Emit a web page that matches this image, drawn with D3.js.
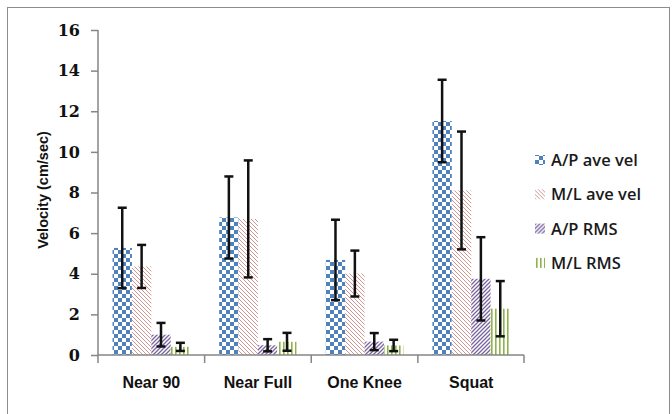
<!DOCTYPE html>
<html>
<head>
<meta charset="utf-8">
<script src="https://cdn.jsdelivr.net/npm/d3@7"></script>
<style>
  body { margin: 0; background: #fff; }
  svg { display: block; }
</style>
</head>
<body>
<div id="chart"></div>
<script>
// data
const categories = ["Near 90", "Near Full", "One Knee", "Squat"];
const seriesNames = ["A/P ave vel", "M/L ave vel", "A/P RMS", "M/L RMS"];
const apAveVel = [5.27, 6.77, 4.68, 11.52];
const mlAveVel = [4.36, 6.70, 4.01, 8.10];
const apRms    = [1.00, 0.48, 0.66, 3.75];
const mlRms    = [0.40, 0.65, 0.47, 2.28];
const apAveVelErr = [1.98, 2.02, 1.98, 2.03];
const mlAveVelErr = [1.06, 2.88, 1.13, 2.90];
const apRmsErr    = [0.58, 0.30, 0.42, 2.05];
const mlRmsErr    = [0.20, 0.44, 0.28, 1.36];
const yTicks = [0, 2, 4, 6, 8, 10, 12, 14, 16];

const values = [apAveVel, mlAveVel, apRms, mlRms];
const errors = [apAveVelErr, mlAveVelErr, apRmsErr, mlRmsErr];
const patternIds = ["pat-check", "pat-down", "pat-up", "pat-vert"];

const width = 672, height = 414;
const margin = { top: 30, right: 148, bottom: 59, left: 98 };
const innerW = width - margin.left - margin.right,
  innerH = height - margin.top - margin.bottom;

const svg = d3.select("#chart")
  .append("svg")
  .attr("width", width)
  .attr("height", height);

// patterns
const defs = svg.append("defs");
const check = defs.append("pattern")
  .attr("id", "pat-check").attr("patternUnits", "userSpaceOnUse")
  .attr("width", 8).attr("height", 8);
check.append("rect").attr("width", 8).attr("height", 8).attr("fill", "#fff");
check.append("rect").attr("width", 4).attr("height", 4).attr("fill", "#4f81bd");
check.append("rect").attr("x", 4).attr("y", 4).attr("width", 4).attr("height", 4).attr("fill", "#4f81bd");

const down = defs.append("pattern")
  .attr("id", "pat-down").attr("patternUnits", "userSpaceOnUse")
  .attr("width", 4).attr("height", 4);
down.append("rect").attr("width", 4).attr("height", 4).attr("fill", "#fff");
down.append("path").attr("d", "M-1,-1L5,5M3,-1L5,1M-1,3L1,5")
  .attr("stroke", "#c47b78").attr("stroke-width", 0.8);

const up = defs.append("pattern")
  .attr("id", "pat-up").attr("patternUnits", "userSpaceOnUse")
  .attr("width", 4).attr("height", 4);
up.append("rect").attr("width", 4).attr("height", 4).attr("fill", "#fff");
up.append("path").attr("d", "M-1,5L5,-1M-1,1L1,-1M3,5L5,3")
  .attr("stroke", "#7a64a0").attr("stroke-width", 1.3);

const vert = defs.append("pattern")
  .attr("id", "pat-vert").attr("patternUnits", "userSpaceOnUse")
  .attr("width", 4).attr("height", 4);
vert.append("rect").attr("width", 4).attr("height", 4).attr("fill", "#fff");
vert.append("rect").attr("x", 1).attr("width", 1.6).attr("height", 4).attr("fill", "#8fb24a");

// outer frame
svg.append("rect")
  .attr("x", 7.5).attr("y", 7.5)
  .attr("width", 662).attr("height", 420)
  .attr("fill", "none").attr("stroke", "#8c8c8c").attr("stroke-width", 1);

const g = svg.append("g")
  .attr("transform", "translate(" + margin.left + "," + margin.top + ")");

// scales
const x0 = d3.scaleBand().domain(categories).range([0, innerW + 0.5]).padding(0);
const x1 = d3.scaleBand().domain(d3.range(seriesNames.length))
  .range([0, x0.bandwidth()]).paddingInner(0).paddingOuter(0.75);
const y = d3.scaleLinear().domain([0, 16]).range([innerH, 0]);

// bars
const groups = g.selectAll("g.series")
  .data(seriesNames.map((name, i) => ({ name, i })))
  .enter().append("g").attr("class", "series");

groups.selectAll("rect")
  .data(d => categories.map((c, j) => ({ c, s: d.i, v: values[d.i][j], e: errors[d.i][j] })))
  .enter().append("rect")
  .attr("x", d => x0(d.c) + x1(d.s))
  .attr("y", d => y(d.v))
  .attr("width", x1.bandwidth())
  .attr("height", d => y(0) - y(d.v))
  .attr("fill", d => "url(#" + patternIds[d.s] + ")");

// error bars
const errData = [];
seriesNames.forEach((n, i) => categories.forEach((c, j) => {
  errData.push({ c, s: i, v: values[i][j], e: errors[i][j] });
}));
const eb = g.selectAll("g.err").data(errData).enter().append("g").attr("class", "err")
  .attr("stroke", "#111").attr("stroke-width", 2.5);
const cx = d => x0(d.c) + x1(d.s) + x1.bandwidth() / 2;
eb.append("line")
  .attr("x1", cx).attr("x2", cx)
  .attr("y1", d => y(d.v + d.e)).attr("y2", d => y(d.v - d.e));
eb.append("line")
  .attr("x1", d => cx(d) - 4.5).attr("x2", d => cx(d) + 4.5)
  .attr("y1", d => y(d.v + d.e)).attr("y2", d => y(d.v + d.e));
eb.append("line")
  .attr("x1", d => cx(d) - 4.5).attr("x2", d => cx(d) + 4.5)
  .attr("y1", d => y(d.v - d.e)).attr("y2", d => y(d.v - d.e));

// y axis
const yAxis = g.append("g")
  .call(d3.axisLeft(y).tickValues(yTicks).tickSize(7).tickPadding(11));
yAxis.select(".domain").attr("stroke", "#868686").attr("stroke-width", 1.5)
  .attr("d", "M0," + y(16) + "H0V" + y(0));
yAxis.selectAll(".tick line").attr("stroke", "#868686").attr("stroke-width", 1.5);
yAxis.selectAll(".tick text")
  .attr("fill", "#111")
  .style("font-family", "'DejaVu Serif', 'Liberation Serif', serif")
  .style("font-size", "16px")
  .style("font-weight", "bold");

// x axis: ticks sit on the category boundaries
const xAxis = g.append("g")
  .attr("transform", "translate(0," + innerH + ")");
xAxis.append("line")
  .attr("x1", 0).attr("x2", innerW)
  .attr("stroke", "#868686").attr("stroke-width", 1.5);
const boundaries = categories.map(c => x0(c)).concat([innerW]);
xAxis.selectAll("line.tk").data(boundaries).enter().append("line")
  .attr("class", "tk")
  .attr("x1", d => d).attr("x2", d => d)
  .attr("y1", 0).attr("y2", 8)
  .attr("stroke", "#868686").attr("stroke-width", 1.5);
xAxis.selectAll("text").data(categories).enter().append("text")
  .attr("x", d => x0(d) + x0.bandwidth() / 2)
  .attr("y", 33)
  .attr("text-anchor", "middle")
  .attr("fill", "#111")
  .style("font-family", "'Liberation Sans', Arial, sans-serif")
  .style("font-size", "16px")
  .style("font-weight", "bold")
  .text(d => d);

// y axis title
svg.append("text")
  .attr("transform", "translate(48,190) rotate(-90)")
  .attr("text-anchor", "middle")
  .attr("fill", "#111")
  .style("font-family", "'Liberation Sans', Arial, sans-serif")
  .style("font-size", "14.5px")
  .style("font-weight", "bold")
  .text("Velocity (cm/sec)");

// legend
const legend = svg.append("g").attr("transform", "translate(535,160)");
const li = legend.selectAll("g").data(seriesNames).enter().append("g")
  .attr("transform", (d, i) => "translate(0," + i * 34.3 + ")");
li.append("rect")
  .attr("x", 0).attr("y", -5).attr("width", 10).attr("height", 10)
  .attr("fill", (d, i) => "url(#" + patternIds[i] + ")");
li.append("text")
  .attr("x", 16).attr("y", 6)
  .attr("fill", "#1a1a1a")
  .style("font-family", "'Open Sans', 'Liberation Sans', sans-serif")
  .style("font-size", "16.5px")
  .style("font-weight", "600")
  .text(d => d);
</script>
</body>
</html>
